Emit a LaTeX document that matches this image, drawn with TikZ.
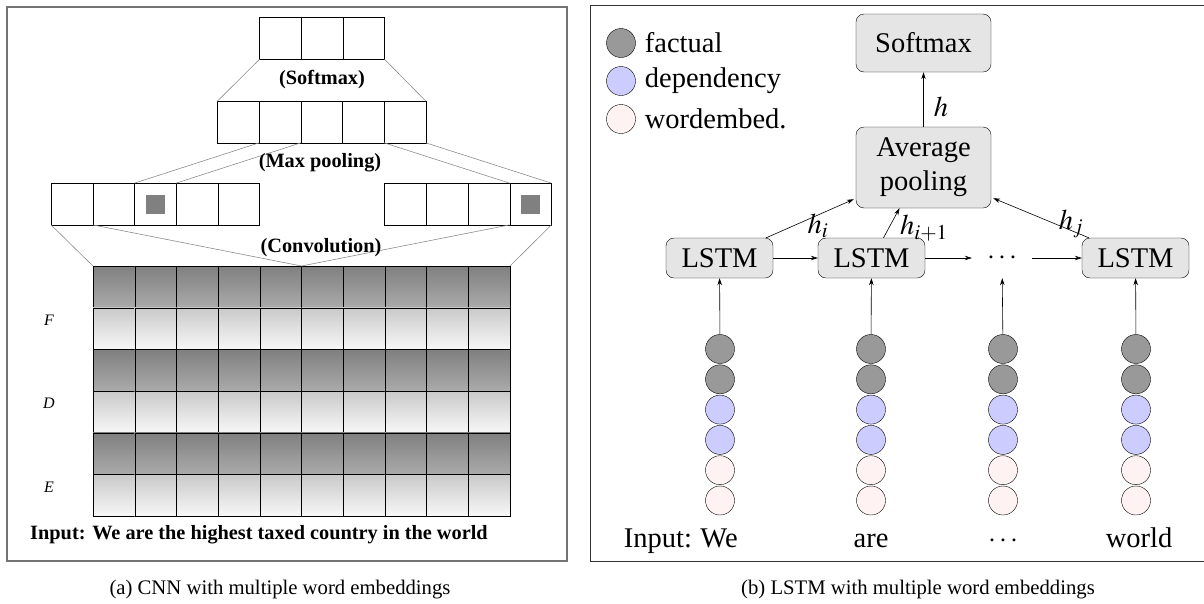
\documentclass[tikz,border=0pt]{standalone}
\usepackage{mathptmx}
\usepackage{fontspec}
\setmainfont{Liberation Serif}
\usetikzlibrary{arrows.meta}

\begin{document}
\begin{tikzpicture}[x=1pt,y=-1pt,
    box/.style={draw,minimum size=41.7pt,inner sep=0pt,outer sep=0pt},
    darkcell/.style={box,top color=black!50,bottom color=black!33},
    lightcell/.style={box,top color=black!21,bottom color=black!3},
    link/.style={draw=black!45,line width=0.6pt},
    boldlab/.style={font=\fontsize{20.3}{24}\selectfont\bfseries,inner sep=1pt},
    rowlab/.style={font=\fontsize{16}{18}\selectfont\itshape},
    big/.style={font=\fontsize{28.5}{34}\selectfont,inner sep=2pt},
    unit/.style={big,draw,rounded corners=8pt,fill=black!10,inner sep=0pt},
    emb/.style={circle,draw,minimum size=29pt,inner sep=0pt},
    factual/.style={emb,fill=black!40},
    dependency/.style={emb,fill=blue!20},
    wordembed/.style={emb,fill=red!5},
    arr/.style={-{Stealth[length=7pt,width=4.5pt]},line width=0.6pt},
    caption/.style={font=\fontsize{20.7}{24}\selectfont}]
    \useasboundingbox (0,0) rectangle (1204,603);
    \pgfmathsetmacro{\cs}{41.7}

    % (a) CNN
    \draw[black!55,line width=1.4pt] (7,7) rectangle (567,561);

    \foreach \k in {0,1,2}
        \node[box] (s\k) at (259.5+\cs/2+\cs*\k,38.5) {};
    \foreach \k in {0,...,4}
        \node[box] (p\k) at (217.4+\cs/2+\cs*\k,122) {};
    \foreach \k in {0,...,4}
        \node[box] (a\k) at (51+\cs/2+\cs*\k,204) {};
    \foreach \k in {0,...,3}
        \node[box] (b\k) at (384.6+\cs/2+\cs*\k,204) {};
    \node[fill=black!50,minimum size=19pt,inner sep=0pt] (m0) at (a2) {};
    \node[fill=black!50,minimum size=19pt,inner sep=0pt] (m1) at (b3) {};

    \foreach \r in {0,2,4}
    \foreach \c in {0,...,9}{
        \pgfmathtruncatemacro{\s}{\r+1}
        \node[darkcell] (g\r\c) at (93+\cs/2+\cs*\c,266+\cs/2+\cs*\r) {};
        \node[lightcell] (g\s\c) at (93+\cs/2+\cs*\c,266+\cs/2+\cs*\s) {};
    }

    \draw[link] (s0.south west) -- (p0.north west) (s2.south east) -- (p4.north east);
    \draw[link] (p1.south west) -- (a2.north west) (p1.south east) -- (a2.north east);
    \draw[link] (p4.south west) -- (b3.north west) (p4.south east) -- (b3.north east);
    \draw[link] (a0.south west) -- (g00.north west) (a1.south west) -- (g05.north west);
    \draw[link] (b3.south west) -- (g05.north west) (b3.south east) -- (g09.north east);

    \node[boldlab] (softmaxlab) at (322,80) {(Softmax)};
    \node[boldlab] (poollab) at (320,163) {(Max pooling)};
    \node[boldlab] (convlab) at (321,248) {(Convolution)};
    \node[rowlab] (fl) at (49,320) {F};
    \node[rowlab] (dl) at (49,403) {D};
    \node[rowlab] (el) at (49,487) {E};
    \node[boldlab] (inputa) at (259,535) {Input: We are the highest taxed country in the world};

    % (b) LSTM
    \draw[black!80,line width=1pt] (590,5) rectangle (1210,561);

    \node[factual] (kf) at (621,43) {};
    \node[dependency] (kd) at (621,81) {};
    \node[wordembed] (kw) at (621,119) {};
    \node[big,anchor=west] (tf) at ([xshift=7pt]kf.east) {factual};
    \node[big,anchor=west] (td) at ([xshift=7pt]kd.east) {dependency};
    \node[big,anchor=west] (tw) at ([xshift=7pt]kw.east) {wordembed.};

    \node[unit,minimum width=135pt,minimum height=58pt] (softmax) at (923.5,43) {Softmax};
    \node[unit,minimum width=135pt,minimum height=81pt,align=center] (avg) at (923.5,167.5) {Average\\pooling};

    \node[unit,minimum width=107pt,minimum height=40pt] (l1) at (719.5,258) {LSTM};
    \node[unit,minimum width=107pt,minimum height=40pt] (l2) at (871.5,258) {LSTM};
    \node[big,minimum width=60pt,minimum height=40pt,inner sep=0pt] (l3) at (1002,258) {$\cdots$};
    \node[unit,minimum width=107pt,minimum height=40pt] (l4) at (1135.5,258) {LSTM};

    \foreach \n/\x in {1/720,2/871,3/1003,4/1136}{
        \foreach \k/\sty in {1/factual,2/factual,3/dependency,4/dependency,5/wordembed,6/wordembed}
            \node[\sty] (e\n\k) at (\x,349+30.3*\k-30.3) {};
        \draw[arr] (e\n1) -- (l\n);
    }
    \foreach \a/\b in {1/2,2/3,3/4}
        \draw[arr] (l\a) -- (l\b);

    \draw[arr] (avg) -- (softmax);
    \node[big] (h) at (941,107) {$h$};
    \draw[arr] ([xshift=-7pt]l1.north east) -- ([xshift=-2pt,yshift=9pt]avg.south west);
    \draw[arr] ([xshift=12pt]l2.north) -- ([xshift=-24pt]avg.south);
    \draw[arr] ([xshift=7pt]l4.north west) -- ([xshift=2pt,yshift=10pt]avg.south east);
    \node[big] (hi) at (818,226) {$h_i$};
    \node[big] (hii) at (924,228) {$h_{i+1}$};
    \node[big] (hj) at (1071,224) {$h_j$};

    \node[big,anchor=base] (w1) at (719,547) {We};
    \node[big,anchor=base east] (inputb) at ([xshift=-4pt]w1.base west) {Input:};
    \node[big,anchor=base] (w2) at (871,547) {are};
    \node[big,anchor=base] (w3) at (1003,547) {$\cdots$};
    \node[big,anchor=base] (w4) at (1139,547) {world};

    \node[caption] (capa) at (280,590) {(a) CNN with multiple word embeddings};
    \node[caption] (capb) at (918,590) {(b) LSTM with multiple word embeddings};
\end{tikzpicture}
\end{document}
